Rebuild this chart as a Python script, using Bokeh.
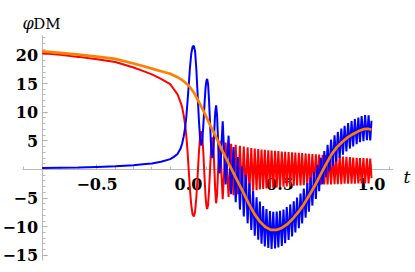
from bokeh.plotting import figure
from bokeh.models import Range1d, SingleIntervalTicker, CustomJSTickFormatter
from bokeh.core.properties import value
from bokeh.embed import file_html
from bokeh.resources import INLINE

# ---- data ----
# smooth part + first few (wide) oscillations
early_t = [-0.8, -0.7, -0.6, -0.5, -0.4, -0.3, -0.25, -0.2, -0.15, -0.1,
           -0.08, -0.06, -0.044, -0.035, -0.026, -0.018, -0.011, -0.005,
           0.001, 0.008, 0.015, 0.022, 0.029, 0.036, 0.043, 0.050, 0.057, 0.063,
           0.069, 0.075, 0.081, 0.087, 0.093, 0.098, 0.102, 0.107, 0.112, 0.117,
           0.122, 0.126, 0.130, 0.134, 0.138, 0.142, 0.146, 0.151, 0.156, 0.160,
           0.165, 0.170, 0.175, 0.181, 0.187]
red_early = [20.3, 20.0, 19.65, 19.25, 18.75, 17.8, 17.2, 16.6, 15.8, 14.9,
             14.0, 13.1, 11.8, 10.9, 9.4, 7.7, 5.6, 3.0,
             0.0, -3.5, -6.2, -7.8, -8.2, -7.4, -4.8, -1.0, 3.0, 5.6,
             6.7, 5.8, 3.0, -1.0, -4.6, -6.4, -6.9, -6.2, -3.8, -0.5,
             2.8, 4.8, 5.6, 4.9, 2.8, -0.5, -3.6, -5.9, -4.5, -1.5,
             2.5, 5.0, 3.5, -1.5, -5.2]
blue_early = [0.25, 0.3, 0.35, 0.45, 0.55, 0.75, 0.9, 1.05, 1.35, 1.8,
              2.2, 2.7, 3.6, 4.5, 5.8, 7.4, 9.5, 12.0,
              14.6, 17.8, 20.2, 21.4, 21.6, 20.6, 17.4, 13.0, 8.5, 5.6,
              4.2, 4.9, 7.6, 11.2, 14.2, 15.5, 15.8, 14.9, 12.2, 8.6,
              5.0, 2.8, 2.0, 2.5, 4.4, 7.5, 10.0, 11.2, 9.5, 6.3,
              2.0, -0.7, 0.6, 4.9, 8.4]

# fast oscillations: times where red is high / blue is low
osc_hi_t = [0.203, 0.233, 0.258, 0.281, 0.302, 0.323, 0.343, 0.362, 0.381, 0.399,
            0.417, 0.436, 0.454, 0.473, 0.491, 0.510, 0.528, 0.547, 0.566, 0.584,
            0.603, 0.621, 0.640, 0.658, 0.677, 0.696, 0.714, 0.733, 0.751, 0.770,
            0.789, 0.807, 0.826, 0.844, 0.863, 0.882, 0.900, 0.919, 0.937, 0.956,
            0.975, 0.993]
red_peaks = [4.7, 4.5, 4.3, 4.15, 4.0, 3.85, 3.75, 3.65, 3.55, 3.5,
             3.45, 3.35, 3.3, 3.25, 3.2, 3.15, 3.1, 3.05, 3.0, 2.95,
             2.9, 2.85, 2.8, 2.75, 2.7, 2.65, 2.6, 2.55, 2.5, 2.45,
             2.4, 2.35, 2.3, 2.25, 2.2, 2.15, 2.1, 2.05, 2.0, 2.0,
             1.95, 1.9]
blue_troughs = [-2.6, -4.3, -5.7, -7.0, -8.2, -9.4, -10.55, -11.55, -12.25, -12.95,
                -13.45, -13.7, -13.85, -13.8, -13.6, -13.35, -12.85, -12.3, -11.7, -11.0,
                -10.25, -9.4, -8.4, -7.35, -6.3, -5.15, -3.8, -2.55, -1.35, -0.3,
                0.6, 1.35, 2.0, 2.6, 3.15, 3.65, 4.0, 4.4, 4.75, 4.95,
                5.1, 5.05]
# times where red is low / blue is high
osc_lo_t = [0.219, 0.246, 0.270, 0.292, 0.313, 0.333, 0.353, 0.372, 0.390, 0.408,
            0.426, 0.445, 0.463, 0.482, 0.500, 0.519, 0.537, 0.556, 0.575, 0.593,
            0.612, 0.630, 0.649, 0.667, 0.686, 0.705, 0.723, 0.742, 0.760, 0.779,
            0.798, 0.816, 0.835, 0.853, 0.872, 0.891, 0.909, 0.928, 0.946, 0.965,
            0.984]
red_troughs = [-4.8, -4.5, -4.3, -4.1, -3.95, -3.8, -3.7, -3.6, -3.5, -3.4,
               -3.3, -3.25, -3.2, -3.15, -3.1, -3.0, -2.95, -2.9, -2.85, -2.8,
               -2.8, -2.75, -2.75, -2.7, -2.7, -2.65, -2.65, -2.6, -2.6, -2.6,
               -2.55, -2.55, -2.55, -2.5, -2.5, -2.5, -2.5, -2.45, -2.45, -2.45,
               -2.45]
blue_peaks = [5.9, 3.9, 2.15, 0.55, -0.95, -2.4, -3.7, -4.85, -5.6, -6.4,
              -6.9, -7.25, -7.4, -7.35, -7.2, -7.0, -6.55, -6.1, -5.55, -4.9,
              -4.2, -3.35, -2.35, -1.4, -0.4, 0.75, 2.05, 3.2, 4.3, 5.2,
              5.95, 6.55, 7.15, 7.6, 8.1, 8.45, 8.8, 9.05, 9.3, 9.5,
              9.45]
end_t = [1.0]
red_end = [-1.5]
blue_end = [8.5]

# smooth (orange) curve
orange_t = [-0.8, -0.7, -0.6, -0.5, -0.4, -0.3, -0.25, -0.2, -0.15, -0.1, -0.06, -0.03,
            0.0, 0.03, 0.06, 0.09, 0.12, 0.15, 0.18, 0.21, 0.24, 0.27, 0.30, 0.33,
            0.36, 0.39, 0.42, 0.45, 0.48, 0.51, 0.54, 0.57, 0.60, 0.63, 0.66, 0.69,
            0.72, 0.75, 0.78, 0.81, 0.84, 0.87, 0.90, 0.93, 0.96, 0.98, 1.0]
orange_v = [20.6, 20.35, 20.05, 19.7, 19.3, 18.5, 18.05, 17.6, 17.15, 16.7, 16.1, 15.5,
            14.7, 13.4, 11.6, 9.7, 7.6, 5.7, 3.6, 1.65, -0.25, -2.15, -4.05, -6.0,
            -7.75, -9.1, -10.05, -10.55, -10.55, -10.2, -9.55, -8.6, -7.45, -6.1, -4.5, -2.85,
            -1.0, 0.85, 2.55, 3.85, 4.8, 5.6, 6.2, 6.7, 7.05, 7.1, 6.95]

x_major = 0.5
y_major = 5
y_title_main = "φ"
y_title_sub = "DM"
x_title = "t"


def merge(*pairs):
    pts = []
    for ts, vs in pairs:
        pts.extend(zip(ts, vs))
    pts.sort(key=lambda q: q[0])
    return [q[0] for q in pts], [q[1] for q in pts]


red_t, red_v = merge((early_t, red_early), (osc_hi_t, red_peaks),
                     (osc_lo_t, red_troughs), (end_t, red_end))
blue_t, blue_v = merge((early_t, blue_early), (osc_hi_t, blue_troughs),
                       (osc_lo_t, blue_peaks), (end_t, blue_end))

W, H = 415, 272
p = figure(width=W, height=H, output_backend="svg", toolbar_location=None,
           x_range=Range1d(-1.0273, 1.2404), y_range=Range1d(-17.98, 29.49),
           min_border=0, min_border_left=0, min_border_right=0,
           min_border_top=0, min_border_bottom=0)
p.outline_line_color = None
p.grid.visible = False
p.background_fill_color = "white"
p.border_fill_color = "white"

for ax, loc, bounds, ticker in (
        (p.xaxis[0], 0, (-0.907, 1.12), SingleIntervalTicker(interval=x_major, num_minor_ticks=5)),
        (p.yaxis[0], -0.8, (-15.9, 23.4), SingleIntervalTicker(interval=y_major, num_minor_ticks=5))):
    ax.fixed_location = loc
    ax.bounds = bounds
    ax.ticker = ticker
    ax.level = "underlay"
    ax.axis_line_color = "#b8b8b8"
    ax.axis_line_width = 1
    ax.major_tick_line_color = "#a8a8a8"
    ax.minor_tick_line_color = "#b8b8b8"
    ax.major_tick_out = 0
    ax.minor_tick_out = 0
    ax.major_tick_in = 5
    ax.minor_tick_in = 3
    ax.major_label_text_font = "DejaVu Serif"
    ax.major_label_text_font_style = "bold"
    ax.major_label_text_font_size = "16px"
    ax.major_label_text_color = "black"

p.xaxis[0].major_label_standoff = 9
p.yaxis[0].major_label_standoff = 4
p.xaxis[0].formatter = CustomJSTickFormatter(code="""
    const v = Math.round(tick * 10) / 10;
    return (v === 0 ? 0 : v).toFixed(1).replace('-', '\\u2212');
""")
p.yaxis[0].formatter = CustomJSTickFormatter(code="""
    if (Math.abs(tick) < 1e-9) return '';
    return String(Math.round(tick)).replace('-', '\\u2212');
""")

p.line(red_t, red_v, line_color="#ff0000", line_width=2)
p.line(blue_t, blue_v, line_color="#0000ff", line_width=2)
p.line(orange_t, orange_v, line_color="#ff8000", line_width=2.7)

p.text(x=[-0.907], y=[25.4], text=[y_title_main], text_font=value("DejaVu Serif"),
       text_font_style="italic", text_font_size="16px", text_align="left",
       text_baseline="alphabetic", text_color="black")
p.text(x=[-0.848], y=[25.4], text=[y_title_sub], text_font=value("DejaVu Serif"),
       text_font_size="15px", text_align="left",
       text_baseline="alphabetic", text_color="black")
p.text(x=[1.175], y=[-1.4], text=[x_title], text_font=value("DejaVu Serif"),
       text_font_style="italic", text_font_size="17px", text_align="left",
       text_baseline="alphabetic", text_color="black")

open("out.html", "w").write(file_html(p, INLINE))
